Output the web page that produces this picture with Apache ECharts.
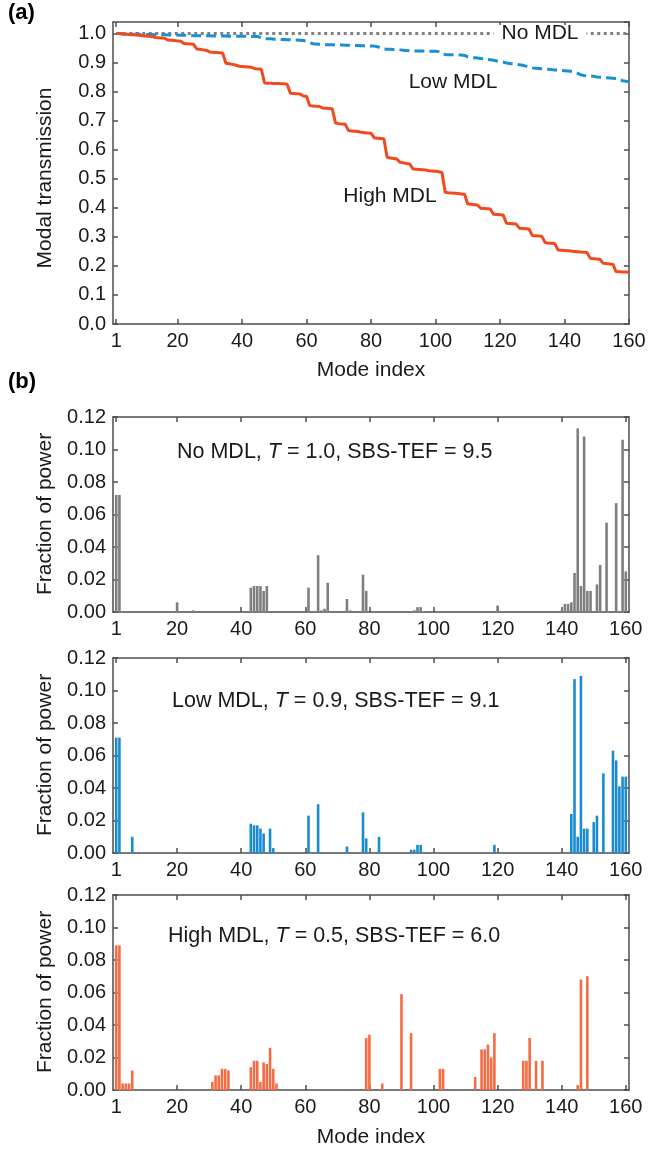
<!DOCTYPE html>
<html>
<head>
<meta charset="utf-8">
<script src="https://cdn.jsdelivr.net/npm/echarts@6/dist/echarts.min.js"></script>
<style>
html, body { margin: 0; padding: 0; background: #fff; }
#main { width: 669px; height: 1149px; }
</style>
</head>
<body>
<div id="main"></div>
<script>
// (a) modal transmission, modes 1..160
var highMdl = [
	1.000, 1.000, 0.999, 0.998, 0.997, 0.996, 0.995, 0.994, 0.993, 0.992,
	0.991, 0.990, 0.987, 0.986, 0.985, 0.984, 0.978, 0.977, 0.976, 0.975,
	0.974, 0.966, 0.965, 0.964, 0.963, 0.947, 0.946, 0.944, 0.942, 0.937,
	0.936, 0.935, 0.934, 0.933, 0.898, 0.896, 0.894, 0.892, 0.888, 0.887,
	0.886, 0.885, 0.884, 0.879, 0.878, 0.877, 0.830, 0.829, 0.829, 0.828,
	0.828, 0.827, 0.827, 0.826, 0.795, 0.794, 0.793, 0.792, 0.785, 0.784,
	0.752, 0.751, 0.750, 0.749, 0.744, 0.743, 0.742, 0.741, 0.692, 0.690,
	0.689, 0.688, 0.666, 0.665, 0.664, 0.663, 0.660, 0.659, 0.658, 0.657,
	0.641, 0.640, 0.639, 0.638, 0.574, 0.572, 0.570, 0.568, 0.557, 0.555,
	0.553, 0.551, 0.534, 0.533, 0.532, 0.531, 0.530, 0.528, 0.527, 0.526,
	0.524, 0.522, 0.454, 0.452, 0.451, 0.450, 0.449, 0.448, 0.447, 0.413,
	0.412, 0.411, 0.410, 0.399, 0.398, 0.397, 0.396, 0.378, 0.377, 0.376,
	0.375, 0.347, 0.346, 0.345, 0.344, 0.330, 0.329, 0.328, 0.327, 0.305,
	0.304, 0.303, 0.302, 0.280, 0.279, 0.278, 0.277, 0.255, 0.254, 0.253,
	0.252, 0.251, 0.250, 0.249, 0.248, 0.247, 0.246, 0.226, 0.225, 0.224,
	0.223, 0.209, 0.208, 0.207, 0.206, 0.180, 0.180, 0.179, 0.179, 0.178
];
var lowMdl = [
	1.000, 1.000, 0.999, 0.999, 0.999, 0.998, 0.998, 0.998, 0.997, 0.997,
	0.997, 0.997, 0.996, 0.996, 0.996, 0.996, 0.995, 0.995, 0.995, 0.995,
	0.994, 0.994, 0.994, 0.994, 0.993, 0.993, 0.993, 0.993, 0.993, 0.993,
	0.992, 0.992, 0.992, 0.992, 0.992, 0.991, 0.991, 0.991, 0.991, 0.991,
	0.991, 0.990, 0.990, 0.990, 0.990, 0.985, 0.983, 0.982, 0.982, 0.981,
	0.981, 0.980, 0.980, 0.979, 0.979, 0.978, 0.978, 0.977, 0.976, 0.974,
	0.969, 0.965, 0.964, 0.963, 0.963, 0.962, 0.962, 0.962, 0.961, 0.961,
	0.961, 0.960, 0.960, 0.959, 0.959, 0.959, 0.958, 0.958, 0.958, 0.957,
	0.957, 0.955, 0.950, 0.947, 0.946, 0.946, 0.945, 0.945, 0.944, 0.943,
	0.942, 0.941, 0.941, 0.940, 0.940, 0.940, 0.939, 0.939, 0.939, 0.939,
	0.938, 0.930, 0.928, 0.927, 0.927, 0.926, 0.926, 0.926, 0.925, 0.920,
	0.918, 0.917, 0.916, 0.914, 0.913, 0.911, 0.910, 0.908, 0.906, 0.904,
	0.902, 0.899, 0.897, 0.896, 0.895, 0.893, 0.891, 0.888, 0.885, 0.882,
	0.881, 0.880, 0.879, 0.878, 0.877, 0.876, 0.875, 0.874, 0.873, 0.872,
	0.871, 0.870, 0.869, 0.864, 0.858, 0.856, 0.855, 0.854, 0.853, 0.851,
	0.850, 0.849, 0.848, 0.847, 0.846, 0.845, 0.842, 0.838, 0.836, 0.835
];
var noMdlEnds = [1, 160];
var noMdlLevel = [1.0, 1.0];

// (b) fraction of power per mode (only non-zero modes)
var noModes = [1, 2, 20, 25, 43, 44, 45, 46, 47, 48, 61, 64, 65, 66, 67, 73, 74, 78, 79,
	94, 95, 96, 120, 140, 141, 142, 143, 144, 145, 146, 147, 148, 149, 151, 152, 154, 157, 159, 160];
var noPower = [0.072, 0.072, 0.006, 0.001, 0.015, 0.016, 0.016, 0.016, 0.013, 0.016, 0.015, 0.035, 0.001, 0.002, 0.018, 0.008, 0.001, 0.023, 0.013,
	0.001, 0.003, 0.003, 0.004, 0.001, 0.005, 0.005, 0.006, 0.024, 0.113, 0.016, 0.108, 0.013, 0.013, 0.017, 0.029, 0.055, 0.067, 0.106, 0.025];

var lowModes = [1, 2, 6, 43, 44, 45, 46, 47, 49, 50, 61, 64, 73, 78, 79, 83,
	93, 94, 95, 96, 119, 143, 144, 145, 146, 147, 148, 150, 151, 153, 156, 157, 158, 159, 160];
var lowPower = [0.071, 0.071, 0.010, 0.018, 0.017, 0.017, 0.015, 0.012, 0.015, 0.003, 0.023, 0.030, 0.004, 0.025, 0.009, 0.010,
	0.002, 0.002, 0.005, 0.005, 0.005, 0.024, 0.107, 0.010, 0.109, 0.015, 0.015, 0.019, 0.023, 0.049, 0.063, 0.057, 0.041, 0.047, 0.047];

var highModes = [1, 2, 3, 4, 5, 6, 31, 32, 33, 34, 35, 36, 43, 44, 45, 46, 47, 48, 49, 50, 51, 79, 80, 84,
	90, 93, 102, 103, 113, 115, 116, 117, 118, 119, 128, 129, 130, 132, 134, 145, 146, 148];
var highPower = [0.089, 0.089, 0.004, 0.004, 0.004, 0.012, 0.005, 0.009, 0.009, 0.013, 0.013, 0.012, 0.014, 0.018, 0.018, 0.005, 0.017, 0.016, 0.026, 0.013, 0.004, 0.032, 0.034, 0.004,
	0.059, 0.035, 0.013, 0.013, 0.008, 0.025, 0.025, 0.028, 0.020, 0.035, 0.018, 0.018, 0.032, 0.018, 0.018, 0.003, 0.068, 0.070];

var modeTicks = [1, 20, 40, 60, 80, 100, 120, 140, 160];

var FONT = '"Liberation Sans", Arial, Helvetica, sans-serif';
var AXIS_COLOR = '#4d4d4d';
var TEXT_COLOR = '#1a1a1a';

var pairs = function(xs, ys) {
	return xs.map(function(x, i) {
		return [x, ys[i]];
	});
};

var modeSeq = highMdl.map(function(v, i) {
	return i + 1;
});

var grids = [
	{ left: 113, top: 22, width: 516, height: 302 },
	{ left: 113, top: 417, width: 516, height: 195 },
	{ left: 113, top: 658, width: 516, height: 195 },
	{ left: 113, top: 895, width: 516, height: 195 }
];

var xAxes = [];
var yAxes = [];
grids.forEach(function(g, i) {
	var base = {
		type: 'value',
		gridIndex: i,
		min: 0,
		max: i === 0 ? 160 : 161,
		splitLine: { show: false },
		axisLine: { show: true, onZero: false, lineStyle: { color: AXIS_COLOR, width: 1.5 } },
		axisTick: { show: true, inside: true, length: 5, customValues: modeTicks, lineStyle: { color: AXIS_COLOR, width: 1.5 } }
	};
	xAxes.push(echarts.util.merge({
		position: 'bottom',
		axisLabel: { show: true, customValues: modeTicks, color: TEXT_COLOR, fontSize: 20, fontFamily: FONT, margin: 7 }
	}, base, true));
	xAxes.push(echarts.util.merge({
		position: 'top',
		axisLabel: { show: false }
	}, echarts.util.clone(base), true));

	var yBase = i === 0 ? { min: 0, max: 1.04, interval: 0.1 } : { min: 0, max: 0.12, interval: 0.02 };
	var fmt = i === 0 ? function(v) { return v.toFixed(1); } : function(v) { return v.toFixed(2); };
	var yCommon = {
		type: 'value',
		gridIndex: i,
		min: yBase.min,
		max: yBase.max,
		interval: yBase.interval,
		splitLine: { show: false },
		axisLine: { show: true, onZero: false, lineStyle: { color: AXIS_COLOR, width: 1.5 } },
		axisTick: { show: true, inside: true, length: 5, lineStyle: { color: AXIS_COLOR, width: 1.5 } }
	};
	yAxes.push(echarts.util.merge({
		position: 'left',
		axisLabel: { show: true, formatter: fmt, showMaxLabel: i !== 0, color: TEXT_COLOR, fontSize: 20, fontFamily: FONT, margin: 7 }
	}, yCommon, true));
	yAxes.push(echarts.util.merge({
		position: 'right',
		axisLabel: { show: false }
	}, echarts.util.clone(yCommon), true));
});

var barSeries = function(idx, xs, ys, color) {
	return {
		type: 'bar',
		xAxisIndex: idx * 2,
		yAxisIndex: idx * 2,
		barWidth: 2.6,
		itemStyle: { color: color },
		data: pairs(xs, ys)
	};
};

var rich = {
	n: { fontSize: 21.5, fontFamily: FONT, fontWeight: 'normal', color: TEXT_COLOR },
	i: { fontSize: 21.5, fontFamily: FONT, fontWeight: 'normal', color: TEXT_COLOR, fontStyle: 'italic' }
};

var panelTitle = function(pre, post, left, top) {
	return {
		text: '{n|' + pre + '}{i|T}{n|' + post + '}',
		left: left,
		top: top,
		padding: 0,
		textStyle: { fontWeight: 'normal', rich: rich }
	};
};

var label = function(txt, x, y, extra) {
	var s = { text: txt, font: '21px ' + FONT, fill: TEXT_COLOR, align: 'center', verticalAlign: 'middle' };
	return echarts.util.merge({ type: 'text', x: x, y: y, style: s }, extra || {}, true);
};

var option = {
	animation: false,
	backgroundColor: '#fff',
	grid: grids,
	xAxis: xAxes,
	yAxis: yAxes,
	title: [
		panelTitle('No MDL, ', ' = 1.0, SBS-TEF = 9.5', 177, 441),
		panelTitle('Low MDL, ', ' = 0.9, SBS-TEF = 9.1', 172, 690),
		panelTitle('High MDL, ', ' = 0.5, SBS-TEF = 6.0', 168, 925)
	],
	graphic: [
		{ type: 'text', left: 8, top: 2, style: { text: '(a)', font: 'bold 22px ' + FONT, fill: '#000' } },
		{ type: 'text', left: 8, top: 371, style: { text: '(b)', font: 'bold 22px ' + FONT, fill: '#000' } },
		label('Modal transmission', 45, 178, { rotation: Math.PI / 2 }),
		label('Fraction of power', 45, 514, { rotation: Math.PI / 2 }),
		label('Fraction of power', 45, 755, { rotation: Math.PI / 2 }),
		label('Fraction of power', 45, 992, { rotation: Math.PI / 2 }),
		label('Mode index', 371, 370),
		label('Mode index', 371, 1137),
		label('No MDL', 540, 33, { z: 10, style: { backgroundColor: '#fff', padding: [0, 8], lineHeight: 16 } }),
		label('Low MDL', 453, 82),
		label('High MDL', 390, 196)
	],
	series: [
		{
			type: 'line',
			xAxisIndex: 0,
			yAxisIndex: 0,
			symbol: 'none',
			z: 1,
			lineStyle: { color: '#808080', width: 3, type: [3, 3.5] },
			data: pairs(noMdlEnds, noMdlLevel)
		},
		{
			type: 'line',
			xAxisIndex: 0,
			yAxisIndex: 0,
			symbol: 'none',
			z: 2,
			lineStyle: { color: '#1b8fd6', width: 3, type: [10, 5] },
			data: pairs(modeSeq, lowMdl)
		},
		{
			type: 'line',
			xAxisIndex: 0,
			yAxisIndex: 0,
			symbol: 'none',
			z: 3,
			lineStyle: { color: '#f24a1f', width: 3 },
			data: pairs(modeSeq, highMdl)
		},
		barSeries(1, noModes, noPower, '#7f7f7f'),
		barSeries(2, lowModes, lowPower, '#1b8bd0'),
		barSeries(3, highModes, highPower, '#f26c44')
	]
};

var chart = echarts.init(document.getElementById('main'), null, { renderer: 'canvas' });
chart.setOption(option);
</script>
</body>
</html>
